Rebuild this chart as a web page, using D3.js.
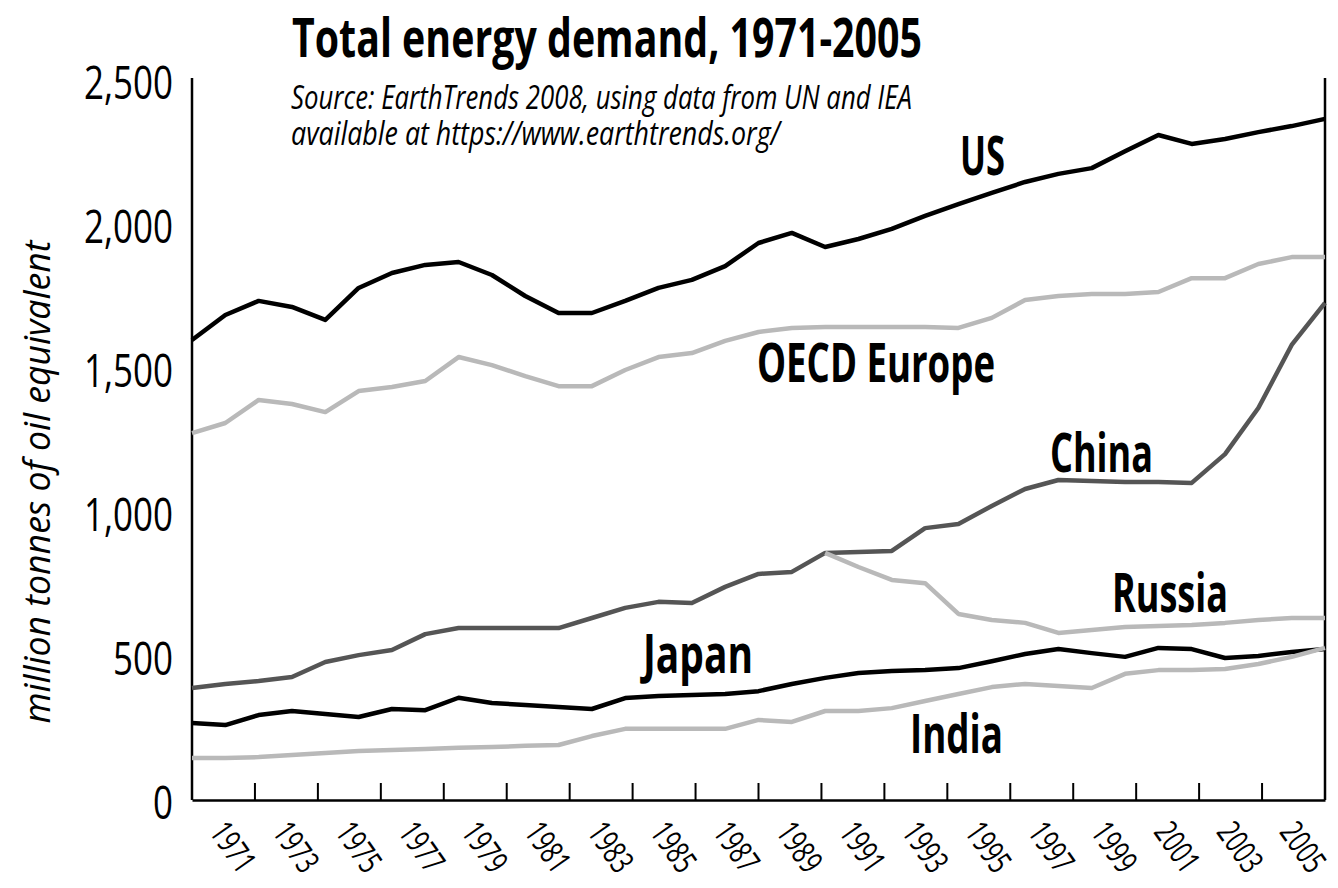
<!DOCTYPE html>
<html>
<head>
<meta charset="utf-8">
<script src="https://cdn.jsdelivr.net/npm/d3@7"></script>
<style>
  body { margin: 0; background: #fff; }
  svg { display: block; }
  text { font-family: "Open Sans", "Liberation Sans", sans-serif; fill: #000; }
</style>
</head>
<body>
<svg id="chart" width="1338" height="888"></svg>
<script>
// years on the x axis, one value per year
const years = d3.range(1971, 2006);
const labelYears = d3.range(1971, 2006, 2);
const yTicks = [0, 500, 1000, 1500, 2000, 2500];

// million tonnes of oil equivalent
const us = [1597, 1684, 1733, 1712, 1667, 1778, 1830, 1858, 1868, 1823,
  1750, 1691, 1691, 1733, 1778, 1806, 1854, 1934, 1969, 1920,
  1948, 1983, 2028, 2069, 2108, 2146, 2174, 2194, 2253, 2309,
  2278, 2295, 2319, 2340, 2365];
const oecdEurope = [1274, 1309, 1389, 1375, 1347, 1420, 1434, 1455, 1538, 1510,
  1472, 1437, 1437, 1493, 1538, 1552, 1594, 1625, 1639, 1642,
  1642, 1642, 1642, 1639, 1674, 1736, 1750, 1757, 1757, 1764,
  1812, 1812, 1861, 1885, 1885];
const china = [389, 403, 413, 427, 479, 503, 521, 576, 597, 597,
  597, 597, 632, 667, 688, 684, 740, 785, 792, 858,
  861, 865, 944, 958, 1021, 1080, 1111, 1108, 1104, 1104,
  1101, 1201, 1361, 1580, 1726];
const russia = [null, null, null, null, null, null, null, null, null, null,
  null, null, null, null, null, null, null, null, null, 858,
  809, 764, 753, 646, 625, 615, 580, 590, 601, 604,
  608, 615, 625, 632, 632];
const japan = [267, 260, 295, 309, 299, 288, 316, 312, 355, 337,
  330, 323, 316, 354, 361, 365, 368, 378, 403, 424,
  441, 448, 451, 458, 482, 507, 524, 510, 497, 528,
  524, 493, 500, 514, 524];
const india = [146, 146, 149, 156, 163, 170, 174, 177, 181, 184,
  188, 191, 222, 247, 247, 247, 247, 278, 271, 309,
  309, 319, 344, 368, 392, 403, 396, 389, 438, 451,
  451, 455, 472, 497, 528];

const seriesNames = ["US", "OECD Europe", "China", "Russia", "Japan", "India"];
const seriesValues = [us, oecdEurope, china, russia, japan, india];
const seriesColors = ["#000000", "#b9b9b9", "#555555", "#b9b9b9", "#000000", "#b9b9b9"];

const sourceLines = ["Source: EarthTrends 2008, using data from UN and IEA",
  "available at https://www.earthtrends.org/"];

// hand placed labels: x, baseline, width
const labelPos = {
  "US": [960, 175, 45],
  "OECD Europe": [757, 382, 238],
  "China": [1050, 472, 103],
  "Russia": [1112, 612, 116],
  "Japan": [643, 673, 110],
  "India": [910, 753, 93]
};

var svg = d3.select("#chart");
const mLeft = 192, mRight = 1325, mTop = 80, mBottom = 800;

var x = d3.scaleLinear().domain([1971, 2005]).range([mLeft, mRight]);
var y = d3.scaleLinear().domain([0, 2500]).range([mBottom, mTop]);
var xBand = d3.scaleBand().domain(labelYears).range([mLeft, mRight]);

// title and source
svg.append("text")
  .attr("x", 292).attr("y", 57)
  .style("font-size", "54px").style("font-weight", "bold")
  .attr("textLength", 630).attr("lengthAdjust", "spacingAndGlyphs")
  .text("Total energy demand, 1971-2005");
var src = svg.append("text")
  .attr("x", 291).attr("y", 109)
  .style("font-size", "32px").style("font-style", "italic");
src.selectAll("tspan")
  .data(sourceLines)
  .enter()
  .append("tspan")
  .attr("x", 291)
  .attr("dy", (d, i) => i == 0 ? 0 : 36)
  .attr("textLength", (d, i) => i == 0 ? 621 : 489)
  .attr("lengthAdjust", "spacingAndGlyphs")
  .text(d => d);

// y axis
var yAxis = svg.append("g")
  .attr("transform", "translate(" + mLeft + ",0)")
  .call(d3.axisLeft(y).tickValues(yTicks).tickSize(0).tickPadding(19)
    .tickFormat(d3.format(",")));
yAxis.select(".domain").remove();
yAxis.selectAll("text")
  .style("font-size", "46px")
  .style("font-family", "'Open Sans', sans-serif")
  .attr("fill", "#000")
  .attr("dy", "0.4em")
  .attr("transform", function() {
    // squeeze the digits like a condensed face, around the right edge
    var xx = +d3.select(this).attr("x");
    return "translate(" + xx + ",0) scale(0.76,1) translate(" + (-xx) + ",0)";
  });

svg.append("line")
  .attr("x1", mLeft).attr("x2", mLeft).attr("y1", mTop - 2).attr("y2", mBottom)
  .attr("stroke", "#000").attr("stroke-width", 2.5);
svg.append("line")
  .attr("x1", mRight).attr("x2", mRight).attr("y1", mTop - 2).attr("y2", mBottom)
  .attr("stroke", "#000").attr("stroke-width", 2.5);

svg.append("text")
  .attr("transform", "translate(50," + 482 + ") rotate(-90)")
  .attr("text-anchor", "middle")
  .style("font-size", "36px").style("font-style", "italic")
  .attr("textLength", 483).attr("lengthAdjust", "spacingAndGlyphs")
  .text("million tonnes of oil equivalent");

// x axis
var xAxis = svg.append("g")
  .attr("transform", "translate(0," + mBottom + ")")
  .call(d3.axisBottom(xBand).tickSize(0).tickSizeOuter(0));
xAxis.select(".domain").attr("stroke", "#000").attr("stroke-width", 2.5);
xAxis.selectAll("text")
  .style("font-size", "33px")
  .style("font-family", "'Open Sans', sans-serif")
  .attr("fill", "#000")
  .attr("text-anchor", "start")
  .attr("x", 0).attr("y", 0).attr("dy", 0)
  .attr("transform", "translate(-15,32) rotate(55) scale(0.7,1)");

// tick marks sit between the labels
svg.append("g")
  .selectAll("line")
  .data(labelYears.slice(1))
  .enter()
  .append("line")
  .attr("x1", d => xBand(d)).attr("x2", d => xBand(d))
  .attr("y1", mBottom).attr("y2", mBottom - 17)
  .attr("stroke", "#000").attr("stroke-width", 2);

// the lines
var line = d3.line()
  .defined(d => d.v != null)
  .x(d => x(d.year))
  .y(d => y(d.v));

seriesNames.forEach(function(name, i) {
  var pts = years.map((yr, j) => ({year: yr, v: seriesValues[i][j]}));
  svg.append("path")
    .datum(pts)
    .attr("fill", "none")
    .attr("stroke", seriesColors[i])
    .attr("stroke-width", 4.5)
    .attr("stroke-linejoin", "round")
    .attr("d", line);
});

// series labels
seriesNames.forEach(function(name) {
  var p = labelPos[name];
  svg.append("text")
    .attr("x", p[0]).attr("y", p[1])
    .style("font-size", "53px").style("font-weight", "bold")
    .attr("textLength", p[2]).attr("lengthAdjust", "spacingAndGlyphs")
    .text(name);
});
</script>
</body>
</html>
